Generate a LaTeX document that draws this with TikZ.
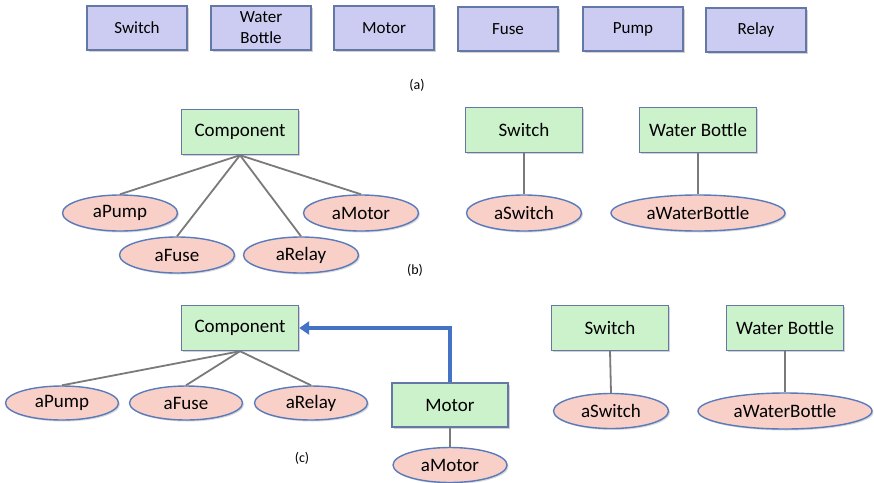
\documentclass[tikz,border=0pt]{standalone}
\usepackage{fontspec}
\setmainfont{Carlito}
\usetikzlibrary{shapes.geometric,arrows.meta,shadows}
\definecolor{purplefill}{HTML}{CCCCF2}
\definecolor{greenfill}{HTML}{CCF2CC}
\definecolor{pinkfill}{HTML}{F8D0C8}
\definecolor{edgeblue}{HTML}{6478A8}
\definecolor{ellblue}{HTML}{5A7ABC}
\definecolor{linkgray}{HTML}{7A7A7A}
\definecolor{arrowblue}{HTML}{4472C4}
\tikzset{
  classbox/.style={draw=edgeblue, line width=1.4pt, fill=purplefill, minimum width=100pt, minimum height=44pt, inner sep=0pt, align=center, font=\fontsize{17}{19}\selectfont, drop shadow={shadow xshift=1.5pt, shadow yshift=-1.5pt, opacity=0.35}},
  greenbox/.style={draw=edgeblue, line width=1.4pt, fill=greenfill, minimum width=117pt, minimum height=45pt, inner sep=0pt, font=\fontsize{19}{21}\selectfont, drop shadow={shadow xshift=1.5pt, shadow yshift=-1.5pt, opacity=0.35}},
  objell/.style={ellipse, draw=ellblue, line width=1.4pt, fill=pinkfill, minimum width=115pt, minimum height=36pt, inner sep=0pt, font=\fontsize{19}{21}\selectfont, drop shadow={shadow xshift=1.5pt, shadow yshift=-1.5pt, opacity=0.3}},
  wideell/.style={objell, minimum width=174pt},
  link/.style={draw=linkgray, line width=1.8pt},
  inherit/.style={draw=arrowblue, line width=3.3pt, -{Triangle[length=10pt,width=13pt]}},
  caption/.style={font=\fontsize{14}{16}\selectfont}
}
\begin{document}
\begin{tikzpicture}[x=1pt,y=-1pt]
\useasboundingbox[fill=white] (0,0) rectangle (874,482);
% (a)
\node[classbox] (aswitch) at (137,28) {Switch};
\node[classbox] (abottle) at (261,28) {Water\\[2pt]Bottle};
\node[classbox] (amotor) at (384,28) {Motor};
\node[classbox] (afuse) at (508,29) {Fuse};
\node[classbox] (apump) at (633,29) {Pump};
\node[classbox] (arelay) at (756,30) {Relay};
\node[caption] (capa) at (417,85) {(a)};
% (b)
\node[greenbox] (bcomp) at (240,132) {Component};
\node[objell] (bpump) at (120,213) {aPump};
\node[objell] (bmotor) at (361,213) {aMotor};
\node[objell] (bfuse) at (177,255) {aFuse};
\node[objell] (brelay) at (301,255) {aRelay};
\draw[link] (bcomp.south) -- (bpump.north);
\draw[link] (bcomp.south) -- (bfuse.north);
\draw[link] (bcomp.south) -- (brelay.north);
\draw[link] (bcomp.south) -- (bmotor.north);
\node[greenbox] (bswitch) at (524,130) {Switch};
\node[objell] (baswitch) at (524,213) {aSwitch};
\draw[link] (bswitch.south) -- (baswitch.north);
\node[greenbox] (bbottle) at (698,130) {Water Bottle};
\node[wideell] (babottle) at (698,213) {aWaterBottle};
\draw[link] (bbottle.south) -- (babottle.north);
\node[caption] (capb) at (415,270) {(b)};
% (c)
\node[greenbox] (ccomp) at (240,328) {Component};
\node[objell, minimum width=113pt, minimum height=34pt] (cpump) at (62,403) {aPump};
\node[objell, minimum width=113pt, minimum height=34pt] (cfuse) at (186,403) {aFuse};
\node[objell, minimum width=113pt, minimum height=34pt] (crelay) at (311,403) {aRelay};
\draw[link] (ccomp.south) -- (cpump.north);
\draw[link] (ccomp.south) -- (cfuse.north);
\draw[link] (ccomp.south) -- (crelay.north);
\node[greenbox, minimum width=116pt, minimum height=44pt] (cmotor) at (450,405) {Motor};
\node[objell, minimum width=114pt, minimum height=35pt] (camotor) at (450,465) {aMotor};
\draw[link] (cmotor.south) -- (camotor.north);
\draw[inherit] (cmotor.north) |- (ccomp.east);
\node[greenbox] (cswitch) at (610,328) {Switch};
\node[objell, minimum height=35pt] (caswitch) at (611,411) {aSwitch};
\draw[link] (cswitch.south) -- (caswitch.north);
\node[greenbox] (cbottle) at (785,328) {Water Bottle};
\node[wideell, minimum height=36pt] (cabottle) at (785,411) {aWaterBottle};
\draw[link] (cbottle.south) -- (cabottle.north);
\node[caption] (capc) at (302,458) {(c)};
\end{tikzpicture}
\end{document}
